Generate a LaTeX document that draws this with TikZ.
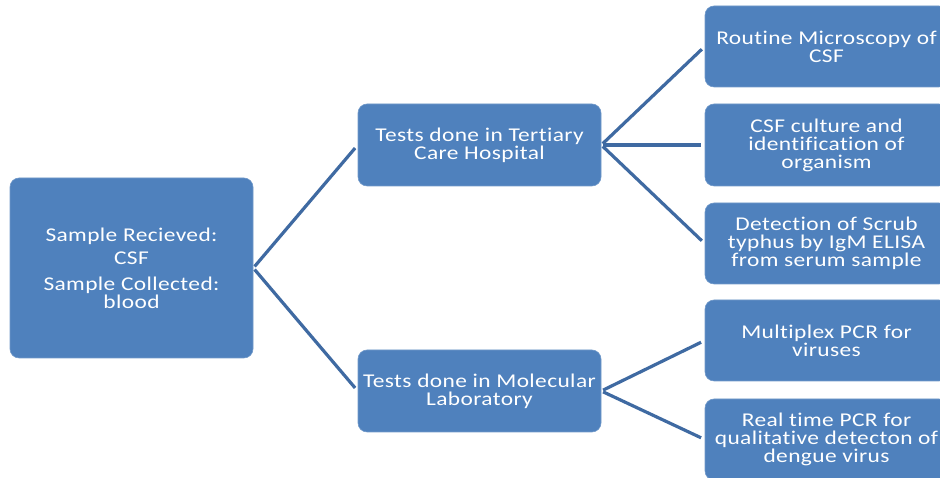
\documentclass[tikz,border=0pt]{standalone}
\usepackage{fontspec}
\setmainfont[FakeStretch=1.2, LetterSpace=2, Ligatures=NoCommon]{Carlito}
\definecolor{boxblue}{HTML}{4F81BD}
\definecolor{lineblue}{HTML}{3F6AA2}
\tikzset{
	box/.style = {rectangle, rounded corners = 9pt, fill = boxblue, draw = boxblue!80!white, line width = 0.6pt, text = white, align = center, minimum width = 243pt, font = \fontsize{19.5}{18}\selectfont, inner sep = 0pt},
	link/.style = {draw = lineblue, line width = 3.2pt, shorten > = 4pt, shorten < = 2pt}
}
\begin{document}
\begin{tikzpicture}[x=1pt,y=1pt]
	\useasboundingbox (0,0) rectangle (940,478);
	\fill[white] (0,0) rectangle (940,478);
	\node (R)  at (131.5, 210)	[box, minimum height = 180pt]	{Sample Recieved:\\[5pt] CSF\\[8pt] Sample Collected:\\ blood};
	\node (T1) at (479.5, 333)	[box, minimum height = 82pt]	{Tests done in Tertiary\\ Care Hospital};
	\node (T2) at (479.5,  87)	[box, minimum height = 82pt]	{Tests done in Molecular\\ Laboratory};
	\node (L1) at (826.5, 431.5)	[box, minimum height = 81pt]	{Routine Microscopy of\\ CSF};
	\node (L2) at (826.5, 333)	[box, minimum height = 82pt]	{CSF culture and\\ identification of\\ organism};
	\node (L3) at (826.5, 234.5)	[box, minimum height = 81pt]	{Detection of Scrub\\ typhus by IgM ELISA\\ from serum sample};
	\node (L4) at (826.5, 137.5)	[box, minimum height = 81pt]	{Multiplex PCR for\\ viruses};
	\node (L5) at (826.5,  38.5)	[box, minimum height = 81pt]	{Real time PCR for\\ qualitative detecton of\\ dengue virus};
	\draw[link] (R.east) -- (T1.west);
	\draw[link] (R.east) -- (T2.west);
	\draw[link] (T1.east) -- (L1.west);
	\draw[link] (T1.east) -- (L2.west);
	\draw[link] (T1.east) -- (L3.west);
	\draw[link] (T2.east) -- (L4.west);
	\draw[link] (T2.east) -- (L5.west);
\end{tikzpicture}
\end{document}
